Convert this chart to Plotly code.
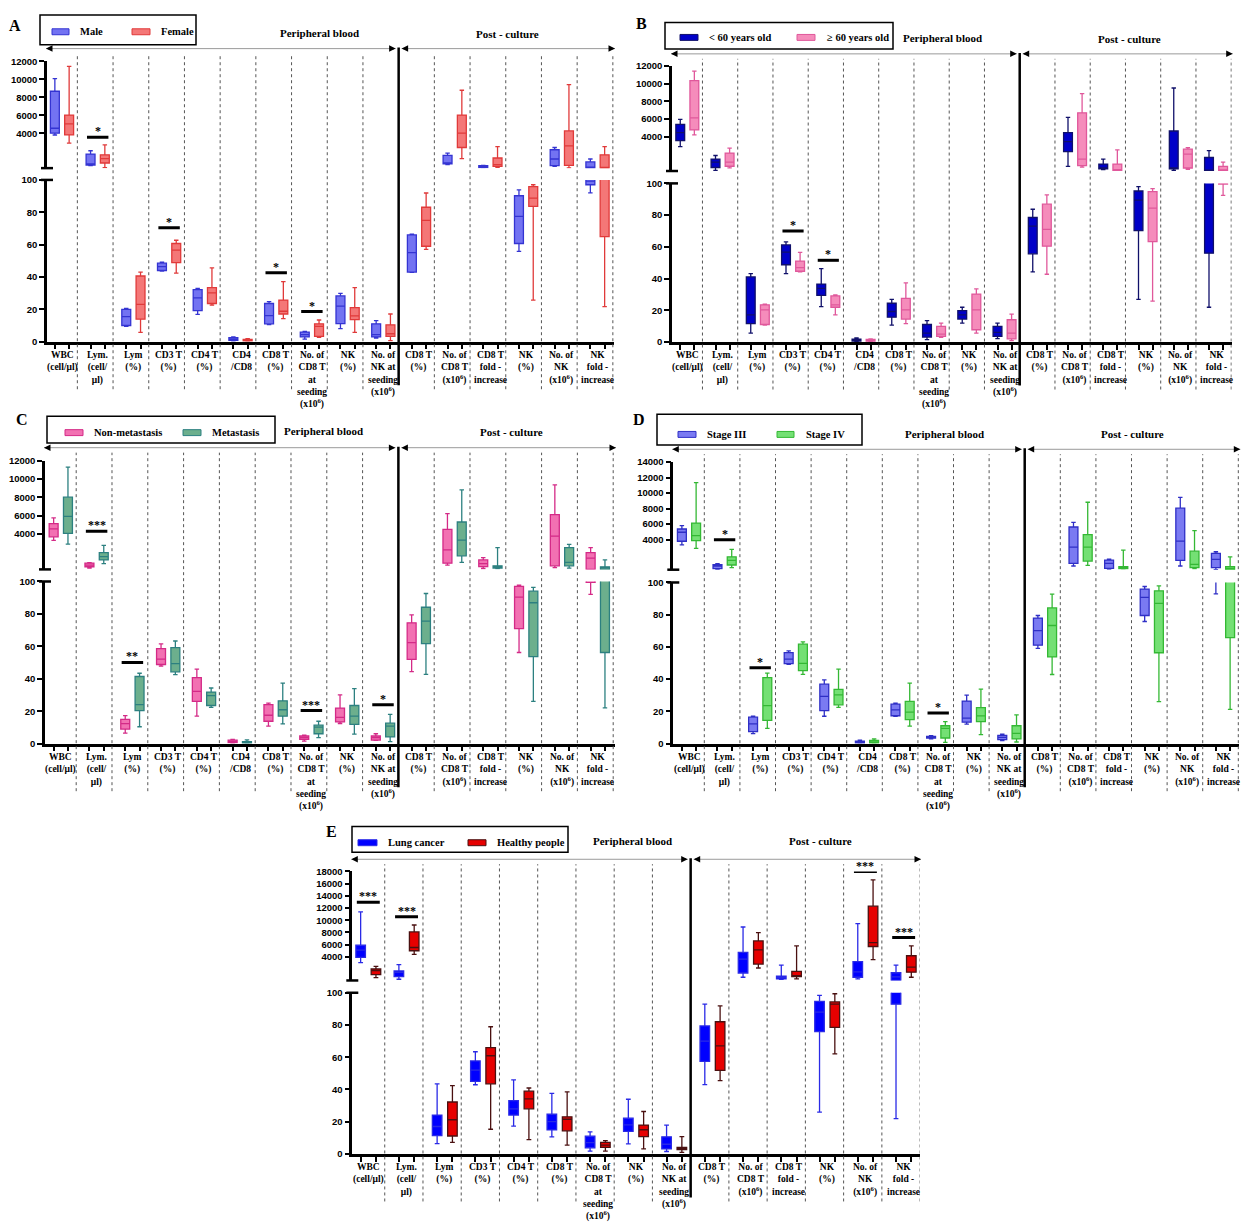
import plotly.graph_objects as go

W, H = 1243, 1225
SERIF = "Liberation Serif"
SANS = "Liberation Sans"

# ---------------------------------------------------------------- categories
LABELS_FULL = [
    "WBC<br>(cell/μl)", "Lym.<br>(cell/<br>μl)", "Lym<br>(%)", "CD3 T<br>(%)",
    "CD4 T<br>(%)", "CD4<br>/CD8", "CD8 T<br>(%)",
    "No. of<br>CD8 T<br>at<br>seeding<br>(x10<sup>6</sup>)", "NK<br>(%)",
    "No. of<br>NK at<br>seeding<br>(x10<sup>6</sup>)",
    "CD8 T<br>(%)", "No. of<br>CD8 T<br>(x10<sup>6</sup>)", "CD8 T<br>fold -<br>increase",
    "NK<br>(%)", "No. of<br>NK<br>(x10<sup>6</sup>)", "NK<br>fold -<br>increase",
]
LABELS_E = [l for l in LABELS_FULL if l != "CD4<br>/CD8"]

TOP_TICKS_12K = [4000, 6000, 8000, 10000, 12000]
TOP_TICKS_14K = [4000, 6000, 8000, 10000, 12000, 14000]
TOP_TICKS_18K = [4000, 6000, 8000, 10000, 12000, 14000, 16000, 18000]
BOTTOM_TICKS = [0, 20, 40, 60, 80, 100]

# ---------------------------------------------------------------- box statistics
# each entry: (lower whisker, Q1, median, Q3, upper whisker)
A_MALE = [
    (3800, 4000, 4550, 8680, 10080), (380, 450, 560, 1670, 2040), (9.5, 10, 15.5, 20, 20.5),
    (43.6, 44, 46.4, 48.5, 49.1), (16.9, 19.2, 27.1, 32.2, 33), (0.5, 0.8, 1.5, 2.5, 2.9),
    (10.6, 11, 16.1, 23.6, 24.7), (1.6, 2.9, 4.3, 5.9, 6.3), (8, 11.2, 22, 28.3, 29.8),
    (2.2, 2.9, 4.3, 11, 13), (42.8, 43, 55, 66, 66.5), (490, 565, 675, 1520, 1780),
    (120, 155, 265, 380, 410), (55.8, 60.7, 77.4, 90.2, 93.9), (300, 380, 1120, 2150, 2400),
    (92, 97, 99.3, 790, 1120),
]
A_FEMALE = [
    (2890, 3810, 5030, 6020, 11450), (155, 675, 1150, 1590, 2700), (5.7, 13.9, 23, 40.6, 43),
    (42.4, 48.9, 56.6, 60.7, 62.7), (22.6, 23.6, 30.2, 33.4, 45.6), (0.3, 0.5, 0.9, 1.4, 1.8),
    (14.3, 17.1, 18.8, 25.7, 37.1), (2.7, 3.3, 9.4, 11, 13.4), (5.7, 13.6, 16, 21, 33.4),
    (0.6, 3.3, 4.9, 10.4, 17.1), (57, 59, 75, 83.1, 91.9), (1150, 2400, 4000, 6020, 8790),
    (190, 300, 490, 1230, 2510), (25.7, 83.7, 88.8, 95.9, 97), (120, 410, 2590, 4250, 9420),
    (21.6, 65, 160, 1590, 2510),
]
B_UNDER60 = [
    (2870, 3550, 4450, 5400, 5960), (170, 500, 1110, 1450, 1860), (5.6, 11.5, 17.1, 41, 43.1),
    (43.1, 48.7, 56.7, 61.2, 63.1), (22.3, 29.4, 33.8, 36.5, 46.2), (0.3, 0.6, 1.0, 1.8, 2.5),
    (10.6, 15.6, 19.2, 24.4, 26.9), (1.5, 3.1, 5.6, 11, 13.5), (11.9, 14.4, 17.1, 19.8, 21.9),
    (2.1, 3.5, 6, 9.8, 11.9), (44.2, 55.6, 73.1, 78.5, 83.7), (620, 2310, 3440, 4450, 6190),
    (250, 330, 440, 890, 1450), (26.9, 70.2, 89.4, 95.2, 97.9), (170, 330, 440, 4640, 9520),
    (21.9, 56, 200, 1630, 2420),
]
B_OVER60 = [
    (4190, 4760, 6140, 10360, 11440), (460, 640, 1110, 2130, 2690), (10.6, 11, 20.2, 23.4, 23.9),
    (44.2, 44.6, 46.9, 51, 56.5), (17.1, 21.9, 23.4, 29, 29.6), (0.3, 0.5, 1.1, 1.6, 2.0),
    (11.5, 14.4, 20.2, 27.5, 37.3), (2.9, 3.5, 5, 9.8, 11.9), (5.6, 7.7, 20.2, 30.2, 33.5),
    (0.8, 1.9, 5.6, 14, 17.5), (42.7, 60.4, 71, 86.9, 92.7), (550, 700, 1450, 6700, 8890),
    (110, 130, 170, 890, 2500), (25.8, 63.3, 84.4, 94.8, 96.7), (280, 440, 2020, 2580, 2760),
    (92.5, 99.6, 170, 620, 1110),
]
C_NONMET = [
    (3280, 3670, 4540, 5130, 5740), (240, 390, 570, 790, 850), (6.5, 9, 12.3, 15, 17.3),
    (47.8, 48.8, 52.1, 58.6, 61.5), (16.9, 26, 32.2, 40.7, 46), (0.3, 0.6, 1.2, 2.2, 2.6),
    (10.8, 13.8, 17.5, 24, 25), (1.6, 2.6, 3.7, 4.7, 5.3), (12.4, 13.4, 16.2, 21.9, 30.1),
    (2.0, 2.2, 3.7, 4.7, 6.1), (44.4, 51.9, 62.3, 74.5, 79.4), (570, 780, 2230, 4480, 6210),
    (200, 410, 740, 1140, 1390), (56.2, 70.9, 90.4, 97, 97.8), (300, 490, 3750, 6100, 9360),
    (92, 99.5, 1330, 1940, 2480),
]
C_MET = [
    (2880, 4040, 5920, 8020, 11320), (740, 1140, 1510, 1940, 2740), (10.4, 20.4, 24.1, 41.4, 43.4),
    (42.6, 44.3, 49.4, 59.2, 63.3), (22.4, 23.5, 29.6, 31.8, 34.3), (0.1, 0.3, 0.7, 1.2, 2.3),
    (12.2, 16.9, 20.9, 26.4, 37.3), (3.7, 6.1, 10.2, 11.4, 13.8), (5.9, 11.9, 17, 23.5, 33.9),
    (1.2, 4.1, 10.8, 12.6, 18.1), (42.7, 61.7, 75.5, 84.1, 92.6), (860, 1590, 3320, 5300, 8820),
    (200, 240, 350, 490, 2480), (26, 53.6, 86.9, 94, 96.4), (240, 490, 860, 2480, 2850),
    (22, 56.2, 240, 380, 1140),
]
D_STAGE3 = [
    (3310, 3780, 4940, 5360, 5790), (150, 230, 580, 740, 870), (6.2, 7.4, 12.3, 16.4, 17),
    (49.2, 49.6, 52.4, 56.5, 57.6), (17, 20.5, 29.3, 36.9, 39.5), (0.2, 0.4, 1.0, 1.6, 2.1),
    (16.9, 17.3, 21, 24.5, 25.1), (2.9, 3.5, 3.9, 4.5, 4.9), (12.1, 13.3, 15.8, 26.4, 30.1),
    (1.8, 2.5, 3.9, 5.1, 5.9), (59.1, 61.1, 70.1, 77.9, 79.5), (580, 930, 3020, 5620, 6220),
    (190, 280, 920, 1350, 1470), (75.8, 79.5, 90.8, 95.9, 97.5), (580, 1310, 3790, 8050, 9460),
    (92.9, 360, 1440, 2210, 2420),
]
D_STAGE4 = [
    (2850, 3870, 4510, 6130, 11350), (370, 710, 1310, 1770, 2720), (9.5, 14.4, 23.6, 41, 43.7),
    (43, 45.3, 49.8, 61.7, 63.1), (22.5, 24.1, 30.3, 33.7, 46.2), (0.1, 0.4, 1.0, 2.0, 3.0),
    (10.8, 14.9, 19.6, 26.2, 37.5), (0.8, 3.5, 9.4, 11.1, 13.6), (5.6, 13.7, 17.2, 22.3, 33.8),
    (1.0, 2.9, 6.4, 11.1, 17.9), (42.9, 53.8, 73.3, 84.2, 92.8), (670, 1220, 3020, 4640, 8820),
    (200, 230, 410, 490, 2630), (26.1, 56.4, 87, 94.8, 97.9), (230, 360, 790, 2500, 5150),
    (21.2, 65.8, 280, 490, 1770),
]
E_LUNG = [
    (3020, 3890, 5080, 5890, 11370), (300, 740, 1440, 1660, 2700), (6.4, 11.3, 17, 24.1, 43.4),
    (42.9, 45, 52, 57.7, 63.4), (17.2, 24.1, 28, 33.1, 46), (10.6, 14.9, 20, 24.6, 37.5),
    (1.7, 3.8, 7, 11, 13.7), (6.2, 14, 18, 22.2, 33.9), (1.5, 3.1, 6, 10.6, 17.9),
    (43, 57.4, 70, 79.4, 92.9), (630, 1330, 3600, 4700, 8880), (300, 350, 600, 790, 2630),
    (25.9, 75.9, 88, 94.7, 98.4), (350, 630, 1500, 3190, 9420), (21.9, 92.9, 700, 1370, 2630),
]
E_HEALTHY = [
    (580, 1070, 1720, 1980, 2420), (4370, 4980, 5510, 8070, 9210), (7.2, 11.1, 21.2, 32.2, 42.4),
    (15.3, 43.5, 60.9, 66, 78.9), (8.8, 28, 34.1, 38.9, 40.9), (5.5, 14.3, 21.5, 23, 38.5),
    (1.7, 4.1, 5.5, 7.2, 8.2), (3.1, 10.7, 15, 17.9, 26.3), (1, 2.7, 3.5, 4.1, 10.7),
    (45.5, 51.8, 67, 82, 91.9), (2150, 2800, 5140, 6600, 7960), (350, 740, 910, 1600, 5790),
    (62.1, 78.5, 93, 94.3, 99.4), (3510, 5680, 6330, 12300, 16630), (630, 1470, 2290, 4160, 5790),
]

# significance bars: (category index, bar height, stars, axis segment)
SIG_A = [(1, 3550, "*", "top"), (3, 70.5, "*", "bottom"), (6, 42.6, "*", "bottom"), (7, 18.6, "*", "bottom")]
SIG_B = [(3, 70, "*", "bottom"), (4, 51.5, "*", "bottom")]
SIG_C = [(1, 4290, "***", "top"), (2, 50.1, "**", "bottom"), (7, 20.4, "***", "bottom"), (9, 23.9, "*", "bottom")]
SIG_D = [(1, 3960, "*", "top"), (2, 47.1, "*", "bottom"), (7, 19, "*", "bottom")]
SIG_E = [(0, 12950, "***", "top"), (1, 10560, "***", "top"), (13, 17980, "***", "top"), (14, 7140, "***", "top")]

GROUPS_A = ["Male", "Female"]
GROUPS_B = ["< 60 years old", "≥ 60 years old"]
GROUPS_C = ["Non-metastasis", "Metastasis"]
GROUPS_D = ["Stage III", "Stage IV"]
GROUPS_E = ["Lung cancer", "Healthy people"]

# ---------------------------------------------------------------- panel layout (pixels)
PANELS = [
    dict(letter="A", letter_xy=(15, 20), names=GROUPS_A, data=(A_MALE, A_FEMALE), sig=SIG_A,
         labels=LABELS_FULL, n_pb=10, top_ticks=TOP_TICKS_12K,
         fills=("#7373f2", "#f47777"), lines=("#3434d2", "#e03a3a"),
         ax_x0=47, c0=62, pitch=35.7, x_end=614,
         y_zero=338.7, y_hundred=175.5, y_break=163.6, y_max_px=56, top_max=12000,
         arrow_y=43, pb=(319, 27), pc=(507, 28), legend_box=(40, 9, 196, 39), legend_y=26,
         legend_items=[(52, 69, 78), (132, 150, 159)]),
    dict(letter="B", letter_xy=(641, 18), names=GROUPS_B, data=(B_UNDER60, B_OVER60), sig=SIG_B,
         labels=LABELS_FULL, n_pb=10, top_ticks=TOP_TICKS_12K,
         fills=("#0000c8", "#f58cbb"), lines=("#10106a", "#e0589b"),
         ax_x0=672, c0=687.3, pitch=35.25, x_end=1231.7,
         y_zero=339, y_hundred=179, y_break=166.5, y_max_px=60.7, top_max=12000,
         arrow_y=48.3, pb=(942, 32), pc=(1129, 33), legend_box=(665, 16.7, 893, 43.3), legend_y=31.7,
         legend_items=[(680, 698, 707), (797, 815, 825)]),
    dict(letter="C", letter_xy=(22, 417), names=GROUPS_C, data=(C_NONMET, C_MET), sig=SIG_C,
         labels=LABELS_FULL, n_pb=10, top_ticks=TOP_TICKS_12K,
         fills=("#f271b2", "#6caf8d"), lines=("#d42a87", "#2c8080"),
         ax_x0=45, c0=60.8, pitch=35.8, x_end=615,
         y_zero=744.3, y_hundred=580.7, y_break=568.5, y_max_px=459, top_max=12000,
         arrow_y=445.7, pb=(323, 429), pc=(512, 430), legend_box=(47, 414, 275, 441), legend_y=430.5,
         legend_items=[(65, 83, 92), (183, 201, 210)]),
    dict(letter="D", letter_xy=(639, 417), names=GROUPS_D, data=(D_STAGE3, D_STAGE4), sig=SIG_D,
         labels=LABELS_FULL, n_pb=10, top_ticks=TOP_TICKS_14K,
         fills=("#7a7af2", "#74e074"), lines=("#2f2fc6", "#34b834"),
         ax_x0=673.3, c0=689, pitch=35.6, x_end=1239.3,
         y_zero=744.3, y_hundred=581.7, y_break=568.8, y_max_px=460.3, top_max=14000,
         arrow_y=447.3, pb=(944, 432), pc=(1132, 432), legend_box=(657, 412, 862, 443), legend_y=432.3,
         legend_items=[(678, 696, 705), (777, 794, 804)]),
    dict(letter="E", letter_xy=(331, 833), names=GROUPS_E, data=(E_LUNG, E_HEALTHY), sig=SIG_E,
         labels=LABELS_E, n_pb=9, top_ticks=TOP_TICKS_18K,
         fills=("#0000ff", "#e60000"), lines=("#2a2ae6", "#4a1010"),
         ax_x0=352.3, c0=368.3, pitch=38.24, x_end=920,
         y_zero=1158.3, y_hundred=995.7, y_break=983.3, y_max_px=873.3, top_max=18000,
         arrow_y=861, pb=(632, 843), pc=(820, 843), legend_box=(352, 828, 568, 854), legend_y=844.3,
         legend_items=[(358, 377, 386), (468, 486, 495)]),
]


def fx(px):
    return px / W


def fy(py):
    return 1 - py / H


fig = go.Figure()
layout_axes = {}
shapes = []
annotations = []

axis_common = dict(showline=True, linewidth=2.5, linecolor="black", ticks="outside",
                   ticklen=5, tickwidth=2, tickcolor="black", showgrid=False,
                   zeroline=False, fixedrange=True)

for i, p in enumerate(PANELS):
    n = len(p["labels"])
    xid = "x" if i == 0 else f"x{i + 1}"
    ybid = "y" if i == 0 else f"y{2 * i + 1}"
    ytid = f"y{2 * i + 2}"
    xkey = "xaxis" if i == 0 else f"xaxis{i + 1}"
    ybkey = "yaxis" if i == 0 else f"yaxis{2 * i + 1}"
    ytkey = f"yaxis{2 * i + 2}"

    def dpx(v, p=p):
        # data x -> pixel x
        return p["c0"] + v * p["pitch"]

    xr = [(p["ax_x0"] - p["c0"]) / p["pitch"], (p["x_end"] - p["c0"]) / p["pitch"]]
    ticks_x = [c + o for c in range(n) for o in (-0.2, 0.2)]
    layout_axes[xkey] = dict(axis_common, domain=[fx(p["ax_x0"]), fx(p["x_end"])], range=xr,
                             anchor=ybid, tickvals=ticks_x, ticktext=[""] * len(ticks_x))
    tickfont = dict(family=SANS, size=9.5, color="black", weight="bold")
    layout_axes[ybkey] = dict(axis_common, domain=[fy(p["y_zero"]), fy(p["y_hundred"])],
                              range=[0, 100], anchor=xid, tickvals=BOTTOM_TICKS,
                              ticktext=[str(t) for t in BOTTOM_TICKS], tickfont=tickfont)
    layout_axes[ytkey] = dict(axis_common, domain=[fy(p["y_break"]), fy(p["y_max_px"])],
                              range=[100, p["top_max"]], anchor=xid, tickvals=p["top_ticks"],
                              ticktext=[str(t) for t in p["top_ticks"]], tickfont=tickfont)

    # boxes, drawn on both segments of the broken axis (only where they reach that segment)
    for g in range(2):
        stats = p["data"][g]
        off = -0.2 if g == 0 else 0.2
        for yid, keep in ((ybid, lambda s: s[0] < 100), (ytid, lambda s: s[4] > 100)):
            idx = [c for c in range(n) if keep(stats[c])]
            if not idx:
                continue
            fig.add_trace(go.Box(
                x=[c + off for c in idx],
                lowerfence=[stats[c][0] for c in idx], q1=[stats[c][1] for c in idx],
                median=[stats[c][2] for c in idx], q3=[stats[c][3] for c in idx],
                upperfence=[stats[c][4] for c in idx],
                xaxis=xid, yaxis=yid, width=0.25, whiskerwidth=0.5,
                fillcolor=p["fills"][g], line=dict(color=p["lines"][g], width=1.3),
                boxpoints=False, showlegend=False, hoverinfo="skip",
            ))

    # axis break marks
    for yb in (p["y_break"], p["y_hundred"]):
        shapes.append(dict(type="line", xref="paper", yref="paper",
                           x0=fx(p["ax_x0"] - 6), x1=fx(p["ax_x0"] + 6), y0=fy(yb), y1=fy(yb),
                           line=dict(color="black", width=2.5)))

    # category separators and section divider
    div_pos = p["n_pb"] - 0.5 - 0.07
    for c in range(n):
        pos = c + 0.5 - 0.07
        if c == p["n_pb"] - 1:
            shapes.append(dict(type="line", xref=xid, yref="paper", x0=pos, x1=pos,
                               y0=fy(p["y_zero"] + 44), y1=fy(p["arrow_y"] - 1),
                               line=dict(color="black", width=2.5)))
        else:
            shapes.append(dict(type="line", xref=xid, yref="paper", x0=pos, x1=pos,
                               y0=fy(p["y_zero"] + 48), y1=fy(p["arrow_y"] + 5),
                               line=dict(color="#555555", width=1, dash="dot")))

    # section arrows
    div_px = dpx(div_pos)
    for xa, xb in ((p["ax_x0"] - 1, div_px - 3), (div_px + 3, p["x_end"] + 1)):
        shapes.append(dict(type="line", xref="paper", yref="paper", x0=fx(xa), x1=fx(xb),
                           y0=fy(p["arrow_y"]), y1=fy(p["arrow_y"]),
                           line=dict(color="#9a9a9a", width=1)))
        for xe, tail in ((xa, 7), (xb, -7)):
            annotations.append(dict(x=fx(xe), y=fy(p["arrow_y"]), xref="paper", yref="paper",
                                    ax=tail, ay=0, text="", showarrow=True, arrowhead=2,
                                    arrowsize=1, arrowwidth=1.3, arrowcolor="black"))

    title_font = dict(family=SERIF, size=11, color="black", weight="bold")
    for txt, (tx, ty) in (("Peripheral blood", p["pb"]), ("Post - culture", p["pc"])):
        annotations.append(dict(x=fx(tx), y=fy(ty), xref="paper", yref="paper",
                                xanchor="center", yanchor="middle",
                                text=txt, showarrow=False, font=title_font))

    # panel letter
    annotations.append(dict(x=fx(p["letter_xy"][0]), y=fy(p["letter_xy"][1]), xref="paper",
                            yref="paper", xanchor="center", yanchor="middle",
                            text=p["letter"], showarrow=False,
                            font=dict(family=SERIF, size=16, color="black", weight="bold")))

    # legend box
    lx0, ly0, lx1, ly1 = p["legend_box"]
    shapes.append(dict(type="rect", xref="paper", yref="paper", x0=fx(lx0), x1=fx(lx1),
                       y0=fy(ly1), y1=fy(ly0), line=dict(color="black", width=1.5),
                       fillcolor="rgba(0,0,0,0)"))
    for g, (sx0, sx1, tx) in enumerate(p["legend_items"]):
        shapes.append(dict(type="rect", xref="paper", yref="paper", x0=fx(sx0), x1=fx(sx1),
                           y0=fy(p["legend_y"] + 3), y1=fy(p["legend_y"] - 3),
                           fillcolor=p["fills"][g], line=dict(color=p["lines"][g], width=1)))
        annotations.append(dict(x=fx(tx), y=fy(p["legend_y"]), xref="paper", yref="paper",
                                xanchor="left", yanchor="middle", text=p["names"][g],
                                showarrow=False,
                                font=dict(family=SERIF, size=10.5, color="black", weight="bold")))

    # category labels
    for c, lab in enumerate(p["labels"]):
        annotations.append(dict(x=c, y=fy(p["y_zero"] + 6), xref=xid, yref="paper",
                                xanchor="center", yanchor="top", text=lab, showarrow=False,
                                align="center",
                                font=dict(family=SERIF, size=9.5, color="black", weight="bold")))

    # significance bars
    for c, v, stars, seg in p["sig"]:
        yid = ytid if seg == "top" else ybid
        shapes.append(dict(type="line", xref=xid, yref=yid, x0=c - 0.3, x1=c + 0.3, y0=v, y1=v,
                           line=dict(color="black", width=3)))
        annotations.append(dict(x=c, y=v, xref=xid, yref=yid, xanchor="center",
                                yanchor="bottom", yshift=-3,
                                text=stars, showarrow=False,
                                font=dict(family=SERIF, size=12, color="black", weight="bold")))

fig.update_layout(
    width=W, height=H, autosize=False,
    margin=dict(l=0, r=0, t=0, b=0),
    paper_bgcolor="white", plot_bgcolor="white",
    showlegend=False,
    shapes=shapes, annotations=annotations,
    **layout_axes,
)

fig.write_html("out.html")
